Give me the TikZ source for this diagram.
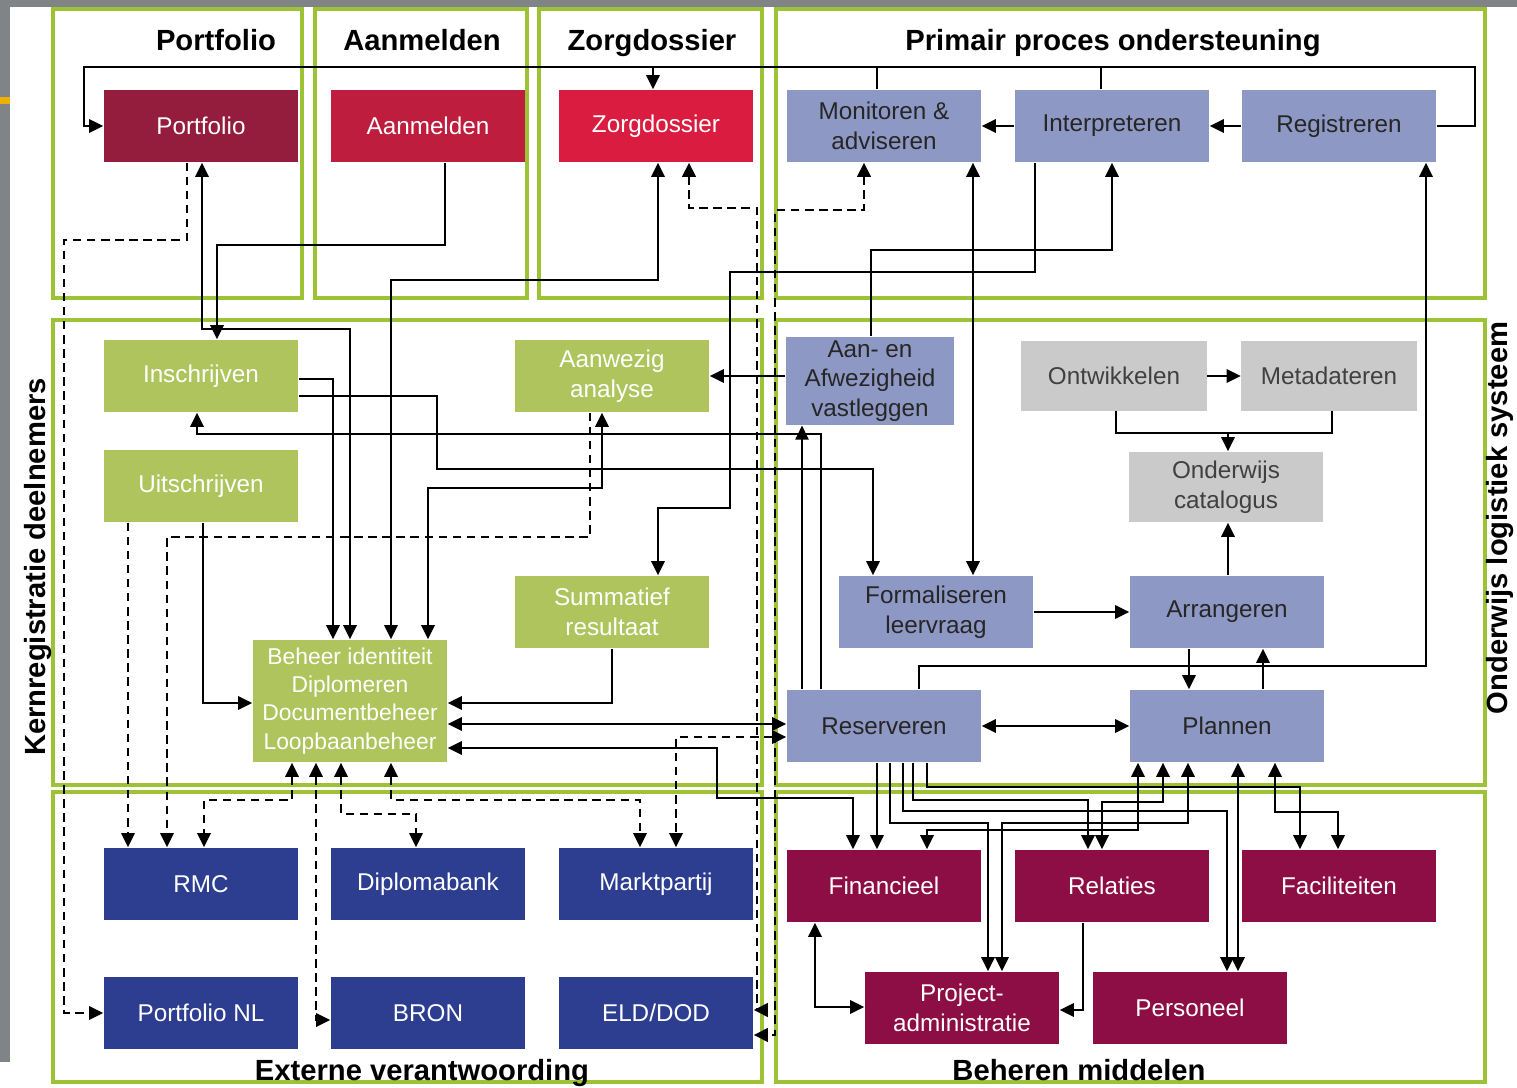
\documentclass[tikz,border=0pt]{standalone}
\usepackage{fontspec}
\setmainfont{Liberation Sans}
\usetikzlibrary{arrows.meta,calc}
\definecolor{panelgreen}{RGB}{157,194,54}
\definecolor{portred}{RGB}{148,28,60}
\definecolor{aanred}{RGB}{190,29,62}
\definecolor{zorgred}{RGB}{218,28,64}
\definecolor{procblue}{RGB}{142,152,196}
\definecolor{kerngreen}{RGB}{175,196,92}
\definecolor{extblue}{RGB}{45,62,145}
\definecolor{midmaroon}{RGB}{140,14,68}
\definecolor{catgray}{RGB}{202,202,202}
\definecolor{framegray}{RGB}{128,132,134}
\definecolor{tickorange}{RGB}{240,176,0}
\tikzset{
  box/.style={minimum width=1.94cm,minimum height=0.72cm,inner sep=1pt,align=center,
    font=\fontsize{6.9}{8.4}\selectfont},
  portbox/.style={box,fill=portred,text=white},
  aanbox/.style={box,fill=aanred,text=white},
  zorgbox/.style={box,fill=zorgred,text=white},
  procbox/.style={box,fill=procblue,text=black!85},
  kernbox/.style={box,fill=kerngreen,text=white},
  extbox/.style={box,fill=extblue,text=white},
  midbox/.style={box,fill=midmaroon,text=white},
  catbox/.style={box,fill=catgray,text=black!75},
  panel/.style={draw=panelgreen,line width=0.9pt},
  title/.style={font=\fontsize{8.3}{10}\selectfont\bfseries},
  link/.style={line width=0.5pt,->},
  both/.style={line width=0.5pt,<->},
  plain/.style={line width=0.5pt},
  dashlink/.style={dash pattern=on 2.4pt off 1.6pt},
}
\begin{document}
\begin{tikzpicture}[x=0.01cm,y=-0.01cm,>={Triangle[length=4pt,width=3.8pt]}]
  \useasboundingbox (0,0) rectangle (1517,1088);
  \fill[framegray] (0,0) rectangle (1517,7);
  \fill[framegray] (0,0) rectangle (10,1062);
  \fill[tickorange] (0,97) rectangle (10,104);

  % panels
  \foreach \xa/\ya/\xb/\yb in {53/9/302/298, 315/9/527/298, 539/9/762/298, 776/9/1485/298,
      53/320/762/785, 776/320/1485/785, 53/792/762/1082, 776/792/1485/1082}
    \draw[panel] (\xa,\ya) rectangle (\xb,\yb);

  \node[title,anchor=base] (tportfolio) at (216,51) {Portfolio};
  \node[title,anchor=base] (taanmelden) at (422,51) {Aanmelden};
  \node[title,anchor=base] (tzorg) at (652,51) {Zorgdossier};
  \node[title,anchor=base] (tprimair) at (1113,51) {Primair proces ondersteuning};
  \node[title,rotate=90] (tkern) at (38,567) {Kernregistratie deelnemers};
  \node[title,rotate=90] (tlogistiek) at (1500,518) {Onderwijs logistiek systeem};
  \node[title,anchor=base] (textern) at (422,1080) {Externe verantwoording};
  \node[title,anchor=base] (tbeheren) at (1079,1080) {Beheren middelen};

  % boxes, top row
  \node[portbox] (portfolio) at (201,126) {Portfolio};
  \node[aanbox] (aanmelden) at (428,126) {Aanmelden};
  \node[zorgbox] (zorg) at (656,126) {Zorgdossier};
  \node[procbox] (monitoren) at (884,126) {Monitoren \&\\adviseren};
  \node[procbox] (interpreteren) at (1112,126) {Interpreteren};
  \node[procbox] (registreren) at (1339,126) {Registreren};

  % boxes, middle row
  \node[kernbox] (inschrijven) at (201,376) {Inschrijven};
  \node[kernbox] (uitschrijven) at (201,486) {Uitschrijven};
  \node[kernbox] (aanwezig) at (612,376) {Aanwezig\\analyse};
  \node[kernbox] (summatief) at (612,612) {Summatief\\resultaat};
  \node[kernbox,minimum height=1.22cm,font=\fontsize{6.5}{8}\selectfont] (beheer) at (350,701)
    {Beheer identiteit\\Diplomeren\\Documentbeheer\\Loopbaanbeheer};
  \node[procbox,minimum width=1.68cm,minimum height=0.86cm] (aanaf) at (870,381)
    {Aan- en\\Afwezigheid\\vastleggen};
  \node[catbox,minimum width=1.85cm,minimum height=0.69cm] (ontwikkelen) at (1114,376) {Ontwikkelen};
  \node[catbox,minimum width=1.75cm,minimum height=0.69cm] (metadateren) at (1329,376) {Metadateren};
  \node[catbox,minimum height=0.70cm] (catalogus) at (1226,487) {Onderwijs\\catalogus};
  \node[procbox] (formaliseren) at (936,612) {Formaliseren\\leervraag};
  \node[procbox] (arrangeren) at (1227,612) {Arrangeren};
  \node[procbox] (reserveren) at (884,726) {Reserveren};
  \node[procbox] (plannen) at (1227,726) {Plannen};

  % boxes, bottom row
  \node[extbox] (rmc) at (201,884) {RMC};
  \node[extbox] (diplomabank) at (428,884) {Diplomabank};
  \node[extbox] (marktpartij) at (656,884) {Marktpartij};
  \node[extbox] (portfolionl) at (201,1013) {Portfolio NL};
  \node[extbox] (bron) at (428,1013) {BRON};
  \node[extbox] (elddod) at (656,1013) {ELD/DOD};
  \node[midbox] (financieel) at (884,886) {Financieel};
  \node[midbox] (relaties) at (1112,886) {Relaties};
  \node[midbox] (faciliteiten) at (1339,886) {Faciliteiten};
  \node[midbox] (projadm) at (962,1008) {Project-\\administratie};
  \node[midbox] (personeel) at (1190,1008) {Personeel};

  % top loop
  \draw[link] (registreren.east) -- (1475,126) |- (84,67) |- (portfolio.west);
  \draw[link] (653,67) -- (zorg.north -| 653,0);
  \draw[plain] (monitoren.north -| 877,0) -- (877,67);
  \draw[plain] (interpreteren.north -| 1101,0) -- (1101,67);
  \draw[link] (registreren.west) -- (interpreteren.east);
  \draw[link] (interpreteren.west) -- (monitoren.east);

  % kernregistratie
  \draw[link,dashlink] (portfolio.south -| 187,0) |- (64,240) |- (portfolionl.west);
  \draw[both] (portfolio.south -| 202,0) |- (350,329) -- (beheer.north -| 350,0);
  \draw[link] (aanmelden.south -| 445,0) |- (217,245) -- (inschrijven.north -| 217,0);
  \draw[both] (zorg.south -| 658,0) |- (391,280) -- (beheer.north -| 391,0);
  \draw[link] (inschrijven.east |- 0,379) -| (beheer.north -| 333,0);
  \draw[link] (inschrijven.east |- 0,396) -| (437,469) -| (formaliseren.north -| 873,0);
  \draw[link] (reserveren.north -| 821,0) |- (197,434) -- (inschrijven.south -| 197,0);
  \draw[both] (beheer.north -| 428,0) |- (602,488) -- (aanwezig.south -| 602,0);
  \draw[link,dashlink] (aanwezig.south -| 590,0) |- (167,537) -- (rmc.north -| 167,0);
  \draw[link,dashlink] (uitschrijven.south -| 128,0) -- (rmc.north -| 128,0);
  \draw[link] (uitschrijven.south -| 203,0) |- (beheer.west |- 0,703);
  \draw[link] (summatief.south -| 612,0) |- (beheer.east |- 0,703);
  \draw[both] (beheer.east |- 0,724) -- (reserveren.west |- 0,724);
  \draw[both,dashlink] (reserveren.west |- 0,737) -| (marktpartij.north -| 676,0);
  \draw[both] (beheer.east |- 0,748) -| (717,798) -| (financieel.north -| 853,0);
  \draw[both,dashlink] (beheer.south -| 292,0) |- (204,800) -- (rmc.north -| 204,0);
  \draw[both,dashlink] (beheer.south -| 316,0) |- (bron.west |- 0,1020);
  \draw[both,dashlink] (beheer.south -| 341,0) |- (416,814) -- (diplomabank.north -| 416,0);
  \draw[both,dashlink] (beheer.south -| 391,0) |- (640,800) -- (marktpartij.north -| 640,0);

  % ELD/DOD lines along the middle
  \draw[both,dashlink,line width=0.8pt] (zorg.south -| 689,0) |- (757,208) |- (elddod.east |- 0,1010);
  \draw[both,dashlink,line width=0.8pt] (monitoren.south -| 864,0) |- (775,210) |- (elddod.east |- 0,1035);

  % onderwijs logistiek
  \draw[both] (monitoren.south -| 973,0) -- (formaliseren.north -| 973,0);
  \draw[link] (reserveren.north -| 802,0) -- (aanaf.south -| 802,0);
  \draw[link] (aanaf.west |- 0,376) -- (aanwezig.east |- 0,376);
  \draw[link] (aanaf.north -| 871,0) |- (1112,250) -- (interpreteren.south -| 1112,0);
  \draw[link] (interpreteren.south -| 1035,0) |- (730,272) |- (658,508) -- (summatief.north -| 658,0);
  \draw[link] (ontwikkelen.east) -- (metadateren.west);
  \coordinate (merge) at (1228,433);
  \draw[plain] (ontwikkelen.south -| 1116,0) |- (merge) -| (metadateren.south -| 1332,0);
  \draw[link] (merge) -- (catalogus.north -| 1228,0);
  \draw[link] (arrangeren.north -| 1228,0) -- (catalogus.south -| 1228,0);
  \draw[link] (formaliseren.east) -- (arrangeren.west);
  \draw[link] (arrangeren.south -| 1189,0) -- (plannen.north -| 1189,0);
  \draw[link] (plannen.north -| 1263,0) -- (arrangeren.south -| 1263,0);
  \draw[link] (reserveren.north -| 919,0) |- (1426,666) -- (registreren.south -| 1426,0);
  \draw[both] (reserveren.east) -- (plannen.west);

  % beheren middelen
  \draw[link] (reserveren.south -| 877,0) -- (financieel.north -| 877,0);
  \draw[link] (reserveren.south -| 890,0) |- (988,823) -- (projadm.north -| 988,0);
  \draw[link] (reserveren.south -| 903,0) |- (1227,811) -- (personeel.north -| 1227,0);
  \draw[link] (reserveren.south -| 913,0) |- (1088,800) -- (relaties.north -| 1088,0);
  \draw[link] (reserveren.south -| 927,0) |- (1300,787) -- (faciliteiten.north -| 1300,0);
  \draw[both] (plannen.south -| 1138,0) |- (927,830) -- (financieel.north -| 927,0);
  \draw[both] (plannen.south -| 1163,0) |- (1102,802) -- (relaties.north -| 1102,0);
  \draw[both] (plannen.south -| 1188,0) |- (1002,823) -- (projadm.north -| 1002,0);
  \draw[both] (plannen.south -| 1238,0) -- (personeel.north -| 1238,0);
  \draw[both] (plannen.south -| 1275,0) |- (1338,812) -- (faciliteiten.north -| 1338,0);
  \draw[link] (relaties.south -| 1083,0) |- (projadm.east |- 0,1010);
  \draw[both] (financieel.south -| 815,0) |- (projadm.west |- 0,1007);
\end{tikzpicture}
\end{document}
